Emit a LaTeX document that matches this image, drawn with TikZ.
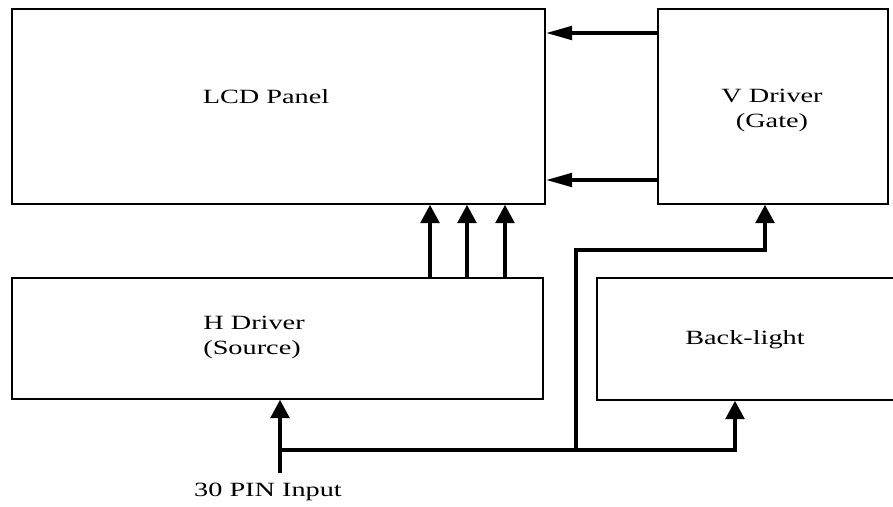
\documentclass[tikz,border=0pt]{standalone}
\usepackage{fontspec}
\newfontfamily\widefont[FakeStretch=1.4]{Liberation Serif}
\usepackage{tikz}
\usetikzlibrary{arrows.meta}
\usetikzlibrary{positioning}
\usetikzlibrary{calc}
\tikzset{
  blockbox/.style = {draw=black, line width=0.8pt, rectangle,
    inner sep=0pt},% bloc du schema
  blocktext/.style = {align=center, inner sep=0pt,
    font=\widefont\fontsize{11.5}{14.2}\selectfont},
  busline/.style = {draw=black, line width=2.4pt},
  uparrow/.style = {busline, -{Triangle[length=10.5pt,width=10.5pt]}},
  leftarrow/.style = {busline, -{Triangle[length=15pt,width=7.5pt]}}
}

\begin{document}
\begin{tikzpicture}[x=0.02cm,y=-0.02cm]
\useasboundingbox (0,0) rectangle (893,507);
% boites
\node [blockbox, minimum width=10.66cm, minimum height=3.9cm] (lcd) at (278.5,106.5) {};
\node [blockbox, minimum width=4.6cm, minimum height=3.9cm] (vdrv) at (773,106.5) {};
\node [blockbox, minimum width=10.62cm, minimum height=2.42cm] (hdrv) at (277.5,338.5) {};
\node [blockbox, minimum width=6.12cm, minimum height=2.44cm] (blight) at (750,339) {};
% textes
\node [blocktext] (lcdtxt) at (266,97) {LCD Panel};
\node [blocktext] (vdrvtxt) at (772,110) {V Driver\\(Gate)};
\node [blocktext, align=left, anchor=west] (hdrvtxt) at (203,337) {H Driver\\(Source)};
\node [blocktext] (blighttxt) at (745,340) {Back-light};
\node [blocktext] (pintxt) at (268,492) {30 PIN Input};
% liaisons
\draw [leftarrow] (vdrv.west |- 0,33) -- (lcd.east |- 0,33);
\draw [leftarrow] (vdrv.west |- 0,180) -- (lcd.east |- 0,180);
\foreach \x in {430,467,505}
  \draw [uparrow] (hdrv.north -| \x,0) -- (lcd.south -| \x,0);
\coordinate (pin) at (280,473);
\coordinate (split) at (576,450);
\draw [uparrow] (pin) -- (hdrv.south -| pin);
\draw [uparrow] (pin |- split) -- (735,450) -- (blight.south -| 735,0);
\draw [uparrow] (split) -- (576,250) -- (765,250) -- (vdrv.south -| 765,0);
\end{tikzpicture}
\end{document}
